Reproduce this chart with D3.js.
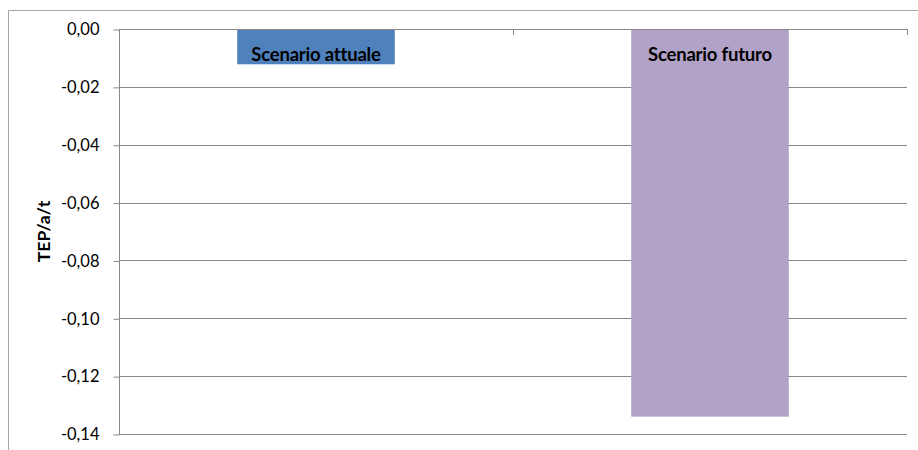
<!DOCTYPE html>
<html><head><meta charset="utf-8">
<script src="https://cdn.jsdelivr.net/npm/d3@7"></script>
<style>
body{margin:0;background:#fff;}
svg{display:block;}
</style></head>
<body>
<svg id="c" width="918" height="450"></svg>
<script>
const categories = ["Scenario attuale", "Scenario futuro"];
const values = [-0.0122, -0.1340];
const colors = ["#4F81BD", "#B3A2C7"];
const yTicks = [0, -0.02, -0.04, -0.06, -0.08, -0.10, -0.12, -0.14];
const yTitle = "TEP/a/t";

(function () {
const svg = d3.select("#c");
const font = "Lato, 'Noto Sans', sans-serif";
const pL = 119, pR = 907, pT = 29, pB = 434;

// outer border
svg.append("path").attr("d", "M8.5,450 V10.5 H918")
  .attr("fill", "none").attr("stroke", "#a6a6a6").attr("stroke-width", 1);

const x = d3.scaleBand().domain(categories).range([pL, pR]).paddingInner(0.6).paddingOuter(0.3);
const xb = d3.scaleBand().domain(categories).range([pL, pR]);
const y = d3.scaleLinear().domain([0, -0.14]).range([pT, pB]);

// gridlines
svg.append("g").selectAll("line").data(yTicks).join("line")
  .attr("x1", pL).attr("x2", pR)
  .attr("y1", d => Math.round(y(d)) + 0.5).attr("y2", d => Math.round(y(d)) + 0.5)
  .attr("stroke", "#878787").attr("stroke-width", 1);

// y axis
const yAxis = d3.axisLeft(y).tickValues(yTicks).tickSize(6).tickPadding(14)
  .tickFormat(d => d3.format(".2f")(d).replace(".", ",").replace("−", "-"));
const ga = svg.append("g").attr("transform", `translate(${pL + 0.5},0.5)`).call(yAxis);
ga.select(".domain").attr("stroke", "#878787").attr("d", `M0,${pT}V${pB}`);
ga.selectAll(".tick line").attr("stroke", "#878787");
ga.selectAll(".tick text").attr("font-family", font).attr("font-size", 16.5).attr("fill", "#000");

// bars
svg.append("g").selectAll("rect").data(values).join("rect")
  .attr("x", (d, i) => x(categories[i]))
  .attr("width", x.bandwidth())
  .attr("y", d => y(0))
  .attr("height", d => y(d) - y(0))
  .attr("fill", (d, i) => colors[i]);

// category tick marks (x axis at zero line)
const xt = [pL, ...categories.map(c => xb(c) + xb.bandwidth())];
svg.append("g").selectAll("line").data(xt).join("line")
  .attr("x1", d => Math.round(d) + 0.5).attr("x2", d => Math.round(d) + 0.5)
  .attr("y1", pT).attr("y2", pT + 6)
  .attr("stroke", "#878787");
svg.append("line").attr("x1", pL).attr("x2", pR)
  .attr("y1", pT + 0.5).attr("y2", pT + 0.5).attr("stroke", "#878787");

// labels
svg.append("g").selectAll("text").data(categories).join("text")
  .attr("x", c => x(c) + x.bandwidth() / 2)
  .attr("y", 61)
  .attr("text-anchor", "middle")
  .attr("font-family", font).attr("font-weight", "bold").attr("font-size", 18.5)
  .attr("letter-spacing", -0.2)
  .text(c => c);

// y title
svg.append("text")
  .attr("transform", `translate(50,${(pT + pB) / 2}) rotate(-90)`)
  .attr("text-anchor", "middle")
  .attr("font-family", font).attr("font-weight", "bold").attr("font-size", 17.5)
  .text(yTitle);
})();
</script>
</body></html>
